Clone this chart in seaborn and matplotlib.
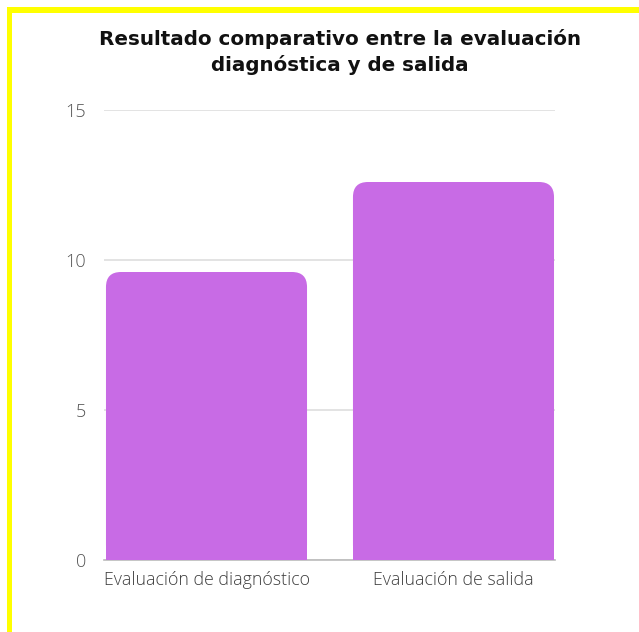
import matplotlib
matplotlib.use("Agg")
import matplotlib.pyplot as plt
from matplotlib.patches import FancyBboxPatch, Rectangle
import seaborn as sns
import pandas as pd

categories = ["Evaluación de diagnóstico", "Evaluación de salida"]
values = [9.6, 12.6]
y_ticks = [0, 5, 10, 15]
title = "Resultado comparativo entre la evaluación\ndiagnóstica y de salida"

BAR_COLOR = "#C86BE5"
GRID_COLOR = "#DEDEDE"
TICK_COLOR = "#555555"

sns.set_theme(style="white")
plt.rcParams["font.family"] = ["Open Sans", "DejaVu Sans"]

W, H = 639, 632
fig = plt.figure(figsize=(W / 100, H / 100), dpi=100)
fig.patch.set_facecolor("white")

ax = fig.add_axes([104 / W, (H - 560) / H, (555 - 104) / W, (560 - 110) / H])

df = pd.DataFrame({"cat": categories, "val": values})
sns.barplot(data=df, x="cat", y="val", color=BAR_COLOR, saturation=1,
            width=0.814, ax=ax, zorder=3)

ax.set_xlim(-0.415, 1.411)
ax.set_ylim(0, 15)
ax.set_yticks(y_ticks)
ax.set_xlabel("")
ax.set_ylabel("")
for s in ["left", "right", "top"]:
    ax.spines[s].set_visible(False)
ax.spines["bottom"].set_color("#BBBBBB")
ax.spines["bottom"].set_linewidth(1.2)
ax.spines["bottom"].set_zorder(1)

ax.yaxis.grid(True, color=GRID_COLOR, linewidth=1.2, zorder=0)
ax.set_axisbelow(True)
ax.tick_params(axis="y", length=0, pad=13, labelsize=13, labelcolor=TICK_COLOR)
ax.tick_params(axis="x", length=0, pad=8, labelsize=12.75, labelcolor="#3F3F3F")
for lbl in ax.get_xticklabels() + ax.get_yticklabels():
    lbl.set_fontweight("light")

# Replace the square bars with bars whose top corners are rounded
fig.canvas.draw()
x0d, y0d = ax.transData.transform((0, 0))
x1d, y1d = ax.transData.transform((1, 1))
px_per_x = x1d - x0d
px_per_y = y1d - y0d
radius_px = 15
r_x = radius_px / px_per_x
aspect = px_per_x / px_per_y

for patch in list(ax.patches):
    bx, by = patch.get_x(), patch.get_y()
    bw, bh = patch.get_width(), patch.get_height()
    patch.set_visible(False)
    ax.add_patch(FancyBboxPatch((bx, by), bw, bh,
                                boxstyle=f"round,pad=0,rounding_size={r_x}",
                                mutation_aspect=aspect,
                                facecolor=BAR_COLOR, edgecolor="none", zorder=3))
    ax.add_patch(Rectangle((bx, by), bw, bh / 2, facecolor=BAR_COLOR,
                           edgecolor="none", zorder=3))

fig.text(340 / W, 1 - 52 / H, title, ha="center", va="center",
         fontsize=14.3, fontweight="bold", color="#111111",
         family=["DejaVu Sans"], linespacing=1.35)

# Yellow frame along the top and left edges
yellow = "#FFFF00"
fig.add_artist(Rectangle((7 / W, 1 - 13 / H), 1, 6 / H, transform=fig.transFigure,
                         facecolor=yellow, edgecolor="none"))
fig.add_artist(Rectangle((7 / W, 0), 5 / W, 1 - 7 / H, transform=fig.transFigure,
                         facecolor=yellow, edgecolor="none"))

fig.savefig("out.png", dpi=100, facecolor="white")
